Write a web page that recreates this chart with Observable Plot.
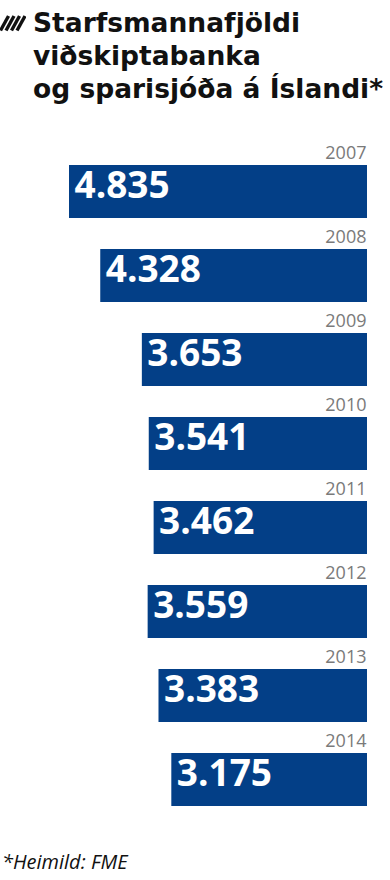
<!DOCTYPE html>
<html>
<head>
<meta charset="utf-8">
<script src="https://cdn.jsdelivr.net/npm/d3@7"></script>
<script src="https://cdn.jsdelivr.net/npm/@observablehq/plot@0.6"></script>
<style>
  html, body { margin: 0; padding: 0; background: #fff; }
  body { width: 390px; height: 880px; position: relative; overflow: hidden; font-family: "Open Sans", sans-serif; }
  #title { position: absolute; left: 0; top: 0; width: 390px; }
  #title .line { position: absolute; left: 33px; font-family: "DejaVu Sans", sans-serif; font-weight: 700; font-size: 26.5px; line-height: 30px; color: #111; white-space: nowrap; }
  #icon { position: absolute; left: 0; top: 15px; }
  #chart { position: absolute; left: 0; top: 130px; }
  #caption { position: absolute; left: 2px; top: 850px; font-style: italic; font-size: 20px; line-height: 24px; color: #111; white-space: nowrap; }
</style>
</head>
<body>
<div id="title">
  <svg id="icon" width="26" height="17" viewBox="0 0 26 17">
    <g stroke="#111" stroke-width="3.4">
      <line x1="0.5" y1="15.5" x2="8.5" y2="1"/>
      <line x1="6" y1="15.5" x2="14" y2="1"/>
      <line x1="11.5" y1="15.5" x2="19.5" y2="1"/>
      <line x1="17" y1="15.5" x2="25" y2="1"/>
    </g>
  </svg>
</div>
<div id="chart"></div>
<div id="caption"></div>
<script>
const titleLines = ["Starfsmannafjöldi", "viðskiptabanka", "og sparisjóða á Íslandi*"];
const captionText = "*Heimild: FME";
const years = ["2007", "2008", "2009", "2010", "2011", "2012", "2013", "2014"];
const employees = [4835, 4328, 3653, 3541, 3462, 3559, 3383, 3175];
const valueLabels = ["4.835", "4.328", "3.653", "3.541", "3.462", "3.559", "3.383", "3.175"];

const title = document.getElementById("title");
titleLines.forEach((t, i) => {
  const d = document.createElement("div");
  d.className = "line";
  d.textContent = t;
  d.style.top = (8 + i * 33) + "px";
  title.appendChild(d);
});
document.getElementById("caption").textContent = captionText;

const data = years.map((y, i) => ({year: y, value: employees[i], label: valueLabels[i]}));

const step = 84.1, bw = 53.5;
const chart = Plot.plot({
  width: 390,
  height: 700,
  margin: 0,
  x: {domain: [0, 4835], range: [367, 69], axis: null},
  y: {domain: years, range: [35, 35 + 7 * step + bw], paddingInner: 1 - bw / step, paddingOuter: 0, axis: null},
  style: {fontFamily: "'Open Sans', sans-serif"},
  marks: [
    Plot.barX(data, {x: "value", y: "year", fill: "#033f87"}),
    Plot.text(data, {x: "value", y: "year", text: "label", textAnchor: "start", dx: 5, dy: -6, fill: "#fff", fontSize: 37, fontWeight: 700}),
    Plot.text(data, {x: 0, y: "year", text: "year", textAnchor: "end", dx: -1, dy: -bw / 2 - 12, fill: "#7a7a7a", fontSize: 18})
  ]
});
document.getElementById("chart").appendChild(chart);
</script>
</body>
</html>
